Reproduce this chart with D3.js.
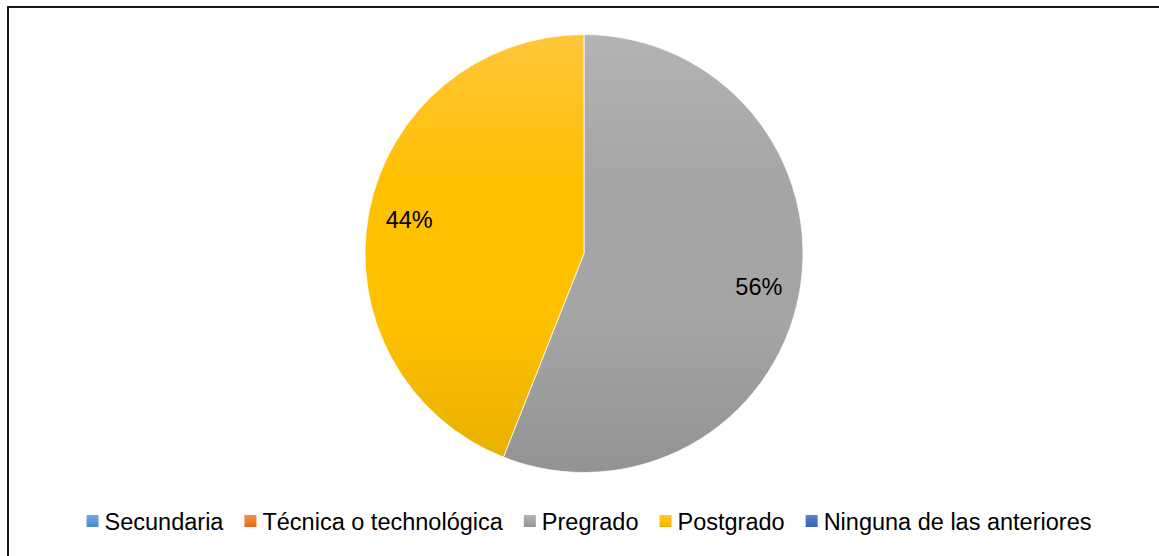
<!DOCTYPE html>
<html>
<head>
<meta charset="utf-8">
<script src="https://cdn.jsdelivr.net/npm/d3@7/dist/d3.min.js"></script>
<style>
html,body{margin:0;padding:0;background:#fff;}
svg{display:block;}
text{font-family:"Liberation Sans",Arial,sans-serif;fill:#000;}
</style>
</head>
<body>
<svg id="chart" width="1159" height="556"></svg>
<script>
const categories = ["Secundaria", "Técnica o technológica", "Pregrado", "Postgrado", "Ninguna de las anteriores"];
const values = [0, 0, 56, 44, 0];
const labels = ["0%", "0%", "56%", "44%", "0%"];
const colorsTop = ["#74a9dc", "#f38e45", "#b3b3b3", "#ffc63c", "#5a83cc"];
const colorsMid = ["#5b9bd5", "#ed7d31", "#a5a5a5", "#ffc000", "#4472c4"];
const colorsBottom = ["#4a86c0", "#d96c20", "#939393", "#e6b000", "#3a63b0"];

const svg = d3.select("#chart");
const cx = 584, cy = 253.5, R = 219;

// border
svg.append("rect").attr("x", 8).attr("y", 7).attr("width", 1300).attr("height", 700)
  .attr("fill", "none").attr("stroke", "#1a1a1a").attr("stroke-width", 2);

const defs = svg.append("defs");
categories.forEach((c, i) => {
  const g = defs.append("linearGradient").attr("id", "g" + i)
    .attr("gradientUnits", "userSpaceOnUse")
    .attr("x1", 0).attr("x2", 0).attr("y1", -R).attr("y2", R);
  g.append("stop").attr("offset", "0%").attr("stop-color", colorsTop[i]);
  g.append("stop").attr("offset", "35%").attr("stop-color", colorsMid[i]);
  g.append("stop").attr("offset", "65%").attr("stop-color", colorsMid[i]);
  g.append("stop").attr("offset", "100%").attr("stop-color", colorsBottom[i]);
  const gl = defs.append("linearGradient").attr("id", "gl" + i)
    .attr("x1", 0).attr("x2", 0).attr("y1", 0).attr("y2", 1);
  gl.append("stop").attr("offset", "0%").attr("stop-color", colorsTop[i]);
  gl.append("stop").attr("offset", "50%").attr("stop-color", colorsMid[i]);
  gl.append("stop").attr("offset", "100%").attr("stop-color", colorsBottom[i]);
});

const pie = d3.pie().sort(null).value(d => d.v);
const data = categories.map((c, i) => ({c, v: values[i], i, label: labels[i]}));
const arcs = pie(data);
const arc = d3.arc().innerRadius(0).outerRadius(R);
const labelArc = d3.arc().innerRadius(178).outerRadius(178);

const g = svg.append("g").attr("transform", `translate(${cx},${cy})`);
g.selectAll("path").data(arcs.filter(a => a.data.v > 0)).join("path")
  .attr("d", arc)
  .attr("fill", a => `url(#g${a.data.i})`)
  .attr("stroke", "#fff").attr("stroke-width", 0.75);

g.selectAll("text.lbl").data(arcs.filter(a => a.data.v > 0)).join("text")
  .attr("class", "lbl")
  .attr("transform", a => `translate(${labelArc.centroid(a)})`)
  .attr("text-anchor", "middle").attr("dy", "0.35em")
  .style("font-size", "23.5px")
  .text(a => a.data.label);

// legend
const leg = svg.append("g");
const fs = 23.5, ms = 12, gapMT = 6, gapItems = 21;
let x = 0;
categories.forEach((c, i) => {
  const it = leg.append("g").attr("transform", `translate(${x},0)`);
  it.append("rect").attr("x", 0).attr("y", -ms / 2 - 1).attr("width", ms).attr("height", ms)
    .attr("fill", `url(#gl${i})`);
  const t = it.append("text").attr("x", ms + gapMT).attr("y", 0).attr("dy", "0.35em")
    .style("font-size", fs + "px").text(c);
  const w = t.node().getComputedTextLength();
  x += ms + gapMT + w + gapItems;
});
const total = x - gapItems;
leg.attr("transform", `translate(${589 - total / 2},${522})`);
</script>
</body>
</html>
